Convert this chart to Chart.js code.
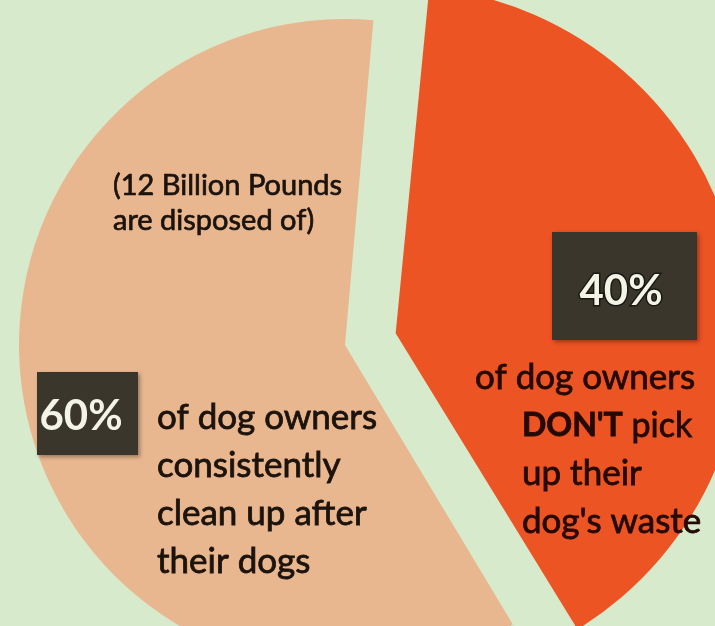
<!DOCTYPE html>
<html>
<head>
<meta charset="utf-8">
<script src="https://cdn.jsdelivr.net/npm/chart.js@4.4.1/dist/chart.umd.min.js"></script>
<style>
  html, body { margin: 0; padding: 0; background: #d7eacb; }
  #wrap { width: 715px; height: 626px; position: relative; }
</style>
</head>
<body>
<div id="wrap"><canvas id="c" width="715" height="626"></canvas></div>
<script>
// ---- data ----
const categories = ["of dog owners DON'T pick up their dog's waste", "of dog owners consistently clean up after their dogs"];
const shares = [40, 60];
const shareLabels = ["40%", "60%"];
const sliceColors = ["#ec5424", "#e9b78f"];
const sliceOffsets = [208, 0];
const noteLines = ["(12 Billion Pounds", "are disposed of)"];
const keepLines = ["of dog owners", "consistently", "clean up after", "their dogs"];
const skipLines = [["of dog owners", ""], ["DON'T", " pick"], ["up their", ""], ["dog's waste", ""]];

const FONT = "Lato, 'Open Sans', sans-serif";

const textPlugin = {
  id: 'texts',
  afterDatasetsDraw(chart) {
    const ctx = chart.ctx;
    ctx.save();
    function box(x, y, w, h) {
      ctx.save();
      ctx.shadowColor = 'rgba(0,0,0,0.35)';
      ctx.shadowBlur = 4;
      ctx.shadowOffsetX = 2;
      ctx.shadowOffsetY = 2;
      ctx.fillStyle = '#3b362c';
      ctx.fillRect(x, y, w, h);
      ctx.restore();
    }
    function txt(t, x, y, thick) {
      ctx.fillText(t, x, y);
      if (thick) { ctx.lineWidth = thick; ctx.strokeStyle = ctx.fillStyle; ctx.strokeText(t, x, y); }
    }
    box(37, 372, 101, 83);
    box(552, 232, 145, 108);

    ctx.textBaseline = 'middle';
    ctx.textAlign = 'center';
    ctx.font = "bold 42px " + FONT;
    ctx.fillStyle = '#f3f4e6';
    txt(shareLabels[1], 81, 416, 0);
    ctx.lineWidth = 3;
    ctx.strokeStyle = '#1a1a14';
    ctx.strokeText(shareLabels[0], 621, 291);
    ctx.fillText(shareLabels[0], 621, 291);

    ctx.textAlign = 'left';
    ctx.fillStyle = '#1b130c';
    ctx.font = "29px " + FONT;
    noteLines.forEach((t, i) => txt(t, 113, 186 + i * 35, 0.7));

    ctx.font = "35px " + FONT;
    keepLines.forEach((t, i) => txt(t, 157, 418 + i * 48, 0.8));

    ctx.fillStyle = '#240a02';
    skipLines.forEach((parts, i) => {
      const x0 = i === 0 ? 475 : 522;
      const y = 378 + i * 48;
      if (i === 1) {
        ctx.font = "bold 32px " + FONT;
        txt(parts[0], x0, y, 0.8);
        const x = x0 + ctx.measureText(parts[0]).width;
        ctx.font = "34px " + FONT;
        txt(parts[1], x, y, 0.8);
      } else {
        ctx.font = "35px " + FONT;
        txt(parts[0], x0, y, 0.8);
      }
    });
    ctx.restore();
  }
};

new Chart(document.getElementById('c'), {
  type: 'pie',
  data: {
    labels: categories,
    datasets: [{
      data: shares,
      backgroundColor: sliceColors,
      borderWidth: 0,
      offset: sliceOffsets,
      hoverOffset: 0,
      radius: 326,
      clip: false
    }]
  },
  options: {
    responsive: false,
    animation: false,
    rotation: 5,
    layout: { padding: { left: 0, right: 25, top: 64, bottom: 0 } },
    plugins: { legend: { display: false }, tooltip: { enabled: false } },
    events: []
  },
  plugins: [textPlugin]
});
</script>
</body>
</html>
